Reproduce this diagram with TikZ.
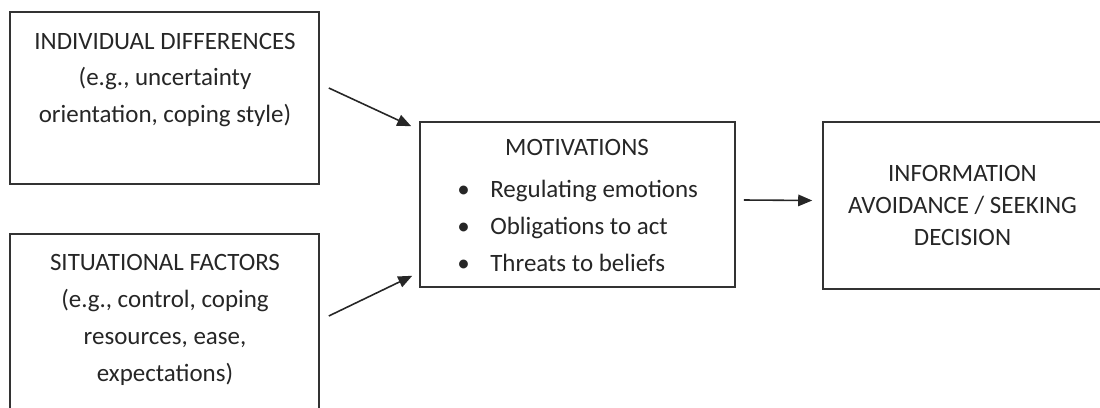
\documentclass[tikz,border=0pt]{standalone}
\usepackage{fontspec}
\setmainfont{Carlito}
\usetikzlibrary{positioning,arrows.meta}

\begin{document}
\begin{tikzpicture}[
	box/.style={shape=rectangle,draw=black!80,line width=0.9pt,inner sep=0pt},
	txt/.style={align=center,inner sep=0pt,text=black!85,font=\fontsize{14.2}{21}\selectfont},
	arr/.style={-{Triangle[length=2.8mm,width=2.3mm]},draw=black!85,line width=0.9pt}]

	\useasboundingbox (0,0) rectangle (22,8.14);
	\clip (0,0) rectangle (22,8.14);

	% boxes
	\node[box,minimum width=6.18cm,minimum height=3.44cm] (indiv) at (3.29, 6.18) {};
	\node[box,minimum width=6.18cm,minimum height=3.96cm] (sitn) at (3.29, 1.48) {};
	\node[box,minimum width=6.3cm,minimum height=3.3cm] (motiv) at (11.55, 4.05) {};
	\node[box,txt,minimum width=5.58cm,minimum height=3.34cm,font=\fontsize{14.2}{18.2}\selectfont] (info) at (19.25, 4.03)
		{INFORMATION\\AVOIDANCE / SEEKING\\DECISION};

	% texts
	\node[txt] (indivtext) at (3.3, 6.54) {INDIVIDUAL DIFFERENCES\\(e.g., uncertainty\\orientation, coping style)};
	\node[txt] (sitntext) at (3.3, 1.74) {SITUATIONAL FACTORS\\(e.g., control, coping\\resources, ease,\\expectations)};
	\node[txt] (mhead) at (11.54, 5.2) {MOTIVATIONS};
	\node[txt,align=left,anchor=west] (mlist) at (9.14, 3.62)
		{\makebox[0.66cm][l]{\textbullet}Regulating emotions\\
		 \makebox[0.66cm][l]{\textbullet}Obligations to act\\
		 \makebox[0.66cm][l]{\textbullet}Threats to beliefs};

	\draw[arr] ([shift={(0.18,0.2)}]indiv.east) -- ([shift={(-0.16,-0.1)}]motiv.north west);
	\draw[arr] ([shift={(0.18,0.34)}]sitn.east) -- ([shift={(-0.14,0.24)}]motiv.south west);
	\draw[arr] ([shift={(0.16,0.09)}]motiv.east) -- ([shift={(-0.2,0.1)}]info.west);
\end{tikzpicture}
\end{document}
